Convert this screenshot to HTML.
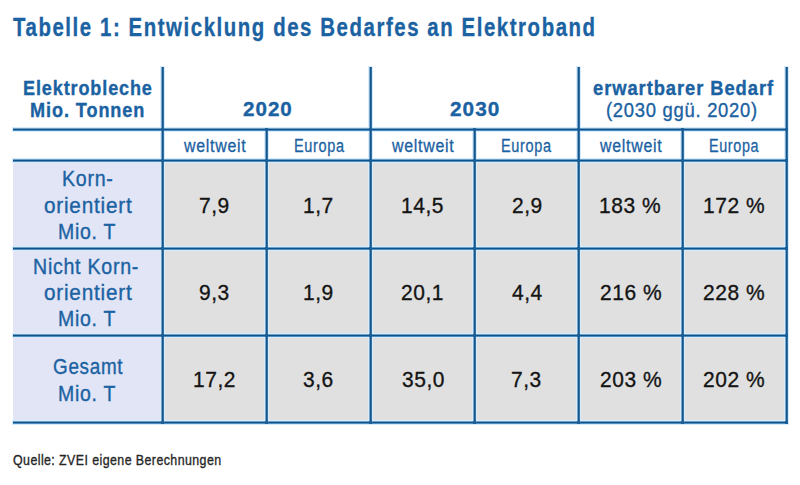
<!DOCTYPE html>
<html><head><meta charset="utf-8"><style>
html,body{margin:0;padding:0;background:#fff;}
body{width:800px;height:485px;position:relative;overflow:hidden;font-family:"Liberation Sans",sans-serif;}
.t{position:absolute;white-space:nowrap;line-height:1;transform-origin:0 0;}
.r{-webkit-text-stroke:0.35px currentColor;}
.bd{-webkit-text-stroke:0.35px currentColor;}
.sm{-webkit-text-stroke:0.3px currentColor;}
.b{position:absolute;}
.hv{position:absolute;width:5px;background:#d6ecfa;}
.hh{position:absolute;height:5px;background:#d6ecfa;}
.v{position:absolute;width:3px;background:linear-gradient(to right,#7fa6cc 0 1px,#135587 1px 2px,#3473aa 2px 3px);}
.h{position:absolute;height:3px;background:linear-gradient(to bottom,#6d9fc8 0 1px,#105286 1px 2px,#4f8cc0 2px 3px);}
</style></head><body>

<div class="b" style="left:13px;top:161px;width:149px;height:261px;background:#e1e5f6"></div>
<div class="b" style="left:163px;top:161px;width:623px;height:261px;background:#e0e0e0"></div>
<div class="hh" style="left:12px;top:127px;width:777px"></div>
<div class="hh" style="left:12px;top:158px;width:777px"></div>
<div class="hh" style="left:12px;top:246px;width:777px"></div>
<div class="hh" style="left:12px;top:333px;width:777px"></div>
<div class="hh" style="left:12px;top:420px;width:777px"></div>
<div class="hv" style="left:160px;top:66px;height:358px"></div>
<div class="hv" style="left:264px;top:128px;height:296px"></div>
<div class="hv" style="left:368px;top:66px;height:358px"></div>
<div class="hv" style="left:472px;top:128px;height:296px"></div>
<div class="hv" style="left:576px;top:66px;height:358px"></div>
<div class="hv" style="left:680px;top:128px;height:296px"></div>
<div class="hv" style="left:784px;top:66px;height:358px"></div>
<div class="h" style="left:13px;top:128px;width:775px"></div>
<div class="h" style="left:13px;top:159px;width:775px"></div>
<div class="h" style="left:13px;top:247px;width:775px"></div>
<div class="h" style="left:13px;top:334px;width:775px"></div>
<div class="h" style="left:13px;top:421px;width:775px"></div>
<div class="v" style="left:161px;top:67px;height:357px"></div>
<div class="v" style="left:265px;top:128px;height:296px"></div>
<div class="v" style="left:369px;top:67px;height:357px"></div>
<div class="v" style="left:473px;top:128px;height:296px"></div>
<div class="v" style="left:577px;top:67px;height:357px"></div>
<div class="v" style="left:681px;top:128px;height:296px"></div>
<div class="v" style="left:785px;top:67px;height:357px"></div>
<div class="b" style="left:161px;top:128px;width:3px;height:3px;background:#1a5f98"></div>
<div class="b" style="left:265px;top:128px;width:3px;height:3px;background:#1a5f98"></div>
<div class="b" style="left:369px;top:128px;width:3px;height:3px;background:#1a5f98"></div>
<div class="b" style="left:473px;top:128px;width:3px;height:3px;background:#1a5f98"></div>
<div class="b" style="left:577px;top:128px;width:3px;height:3px;background:#1a5f98"></div>
<div class="b" style="left:681px;top:128px;width:3px;height:3px;background:#1a5f98"></div>
<div class="b" style="left:785px;top:128px;width:3px;height:3px;background:#1a5f98"></div>
<div class="b" style="left:161px;top:159px;width:3px;height:3px;background:#1a5f98"></div>
<div class="b" style="left:265px;top:159px;width:3px;height:3px;background:#1a5f98"></div>
<div class="b" style="left:369px;top:159px;width:3px;height:3px;background:#1a5f98"></div>
<div class="b" style="left:473px;top:159px;width:3px;height:3px;background:#1a5f98"></div>
<div class="b" style="left:577px;top:159px;width:3px;height:3px;background:#1a5f98"></div>
<div class="b" style="left:681px;top:159px;width:3px;height:3px;background:#1a5f98"></div>
<div class="b" style="left:785px;top:159px;width:3px;height:3px;background:#1a5f98"></div>
<div class="b" style="left:161px;top:247px;width:3px;height:3px;background:#1a5f98"></div>
<div class="b" style="left:265px;top:247px;width:3px;height:3px;background:#1a5f98"></div>
<div class="b" style="left:369px;top:247px;width:3px;height:3px;background:#1a5f98"></div>
<div class="b" style="left:473px;top:247px;width:3px;height:3px;background:#1a5f98"></div>
<div class="b" style="left:577px;top:247px;width:3px;height:3px;background:#1a5f98"></div>
<div class="b" style="left:681px;top:247px;width:3px;height:3px;background:#1a5f98"></div>
<div class="b" style="left:785px;top:247px;width:3px;height:3px;background:#1a5f98"></div>
<div class="b" style="left:161px;top:334px;width:3px;height:3px;background:#1a5f98"></div>
<div class="b" style="left:265px;top:334px;width:3px;height:3px;background:#1a5f98"></div>
<div class="b" style="left:369px;top:334px;width:3px;height:3px;background:#1a5f98"></div>
<div class="b" style="left:473px;top:334px;width:3px;height:3px;background:#1a5f98"></div>
<div class="b" style="left:577px;top:334px;width:3px;height:3px;background:#1a5f98"></div>
<div class="b" style="left:681px;top:334px;width:3px;height:3px;background:#1a5f98"></div>
<div class="b" style="left:785px;top:334px;width:3px;height:3px;background:#1a5f98"></div>
<div class="b" style="left:161px;top:421px;width:3px;height:3px;background:#1a5f98"></div>
<div class="b" style="left:265px;top:421px;width:3px;height:3px;background:#1a5f98"></div>
<div class="b" style="left:369px;top:421px;width:3px;height:3px;background:#1a5f98"></div>
<div class="b" style="left:473px;top:421px;width:3px;height:3px;background:#1a5f98"></div>
<div class="b" style="left:577px;top:421px;width:3px;height:3px;background:#1a5f98"></div>
<div class="b" style="left:681px;top:421px;width:3px;height:3px;background:#1a5f98"></div>
<div class="b" style="left:785px;top:421px;width:3px;height:3px;background:#1a5f98"></div>
<div class="t bd" style="left:13.12px;top:15.25px;font-size:25.94px;font-weight:700;color:#1b62a2;letter-spacing:2.0px;transform:scaleX(0.7862)">Tabelle 1: Entwicklung des Bedarfes an Elektroband</div>
<div class="t bd" style="left:23.19px;top:78.12px;font-size:20.45px;font-weight:700;color:#1b62a2;letter-spacing:1.0px;transform:scaleX(0.8827)">Elektrobleche</div>
<div class="t bd" style="left:30.18px;top:100.32px;font-size:19.98px;font-weight:700;color:#1b62a2;letter-spacing:1.0px;transform:scaleX(0.9072)">Mio. Tonnen</div>
<div class="t bd" style="left:242.96px;top:99.32px;font-size:20.56px;font-weight:700;color:#1b62a2;letter-spacing:1.0px;transform:scaleX(1.0017)">2020</div>
<div class="t bd" style="left:449.77px;top:99.32px;font-size:20.56px;font-weight:700;color:#1b62a2;letter-spacing:1.0px;transform:scaleX(1.0121)">2030</div>
<div class="t bd" style="left:592.51px;top:79.19px;font-size:19.67px;font-weight:700;color:#1b62a2;letter-spacing:1.0px;transform:scaleX(0.9335)">erwartbarer Bedarf</div>
<div class="t r" style="left:606.34px;top:99.62px;font-size:20.56px;font-weight:400;color:#1b62a2;letter-spacing:0.8px;transform:scaleX(0.8969)">(2030 ggü. 2020)</div>
<div class="t r" style="left:12.65px;top:453.46px;font-size:14.64px;font-weight:400;color:#262626;letter-spacing:0.5px;transform:scaleX(0.8475)">Quelle: ZVEI eigene Berechnungen</div>
<div class="t sm" style="left:184.12px;top:136.60px;font-size:18.00px;font-weight:400;color:#1b62a2;letter-spacing:0.8px;transform:scaleX(0.8869)">weltweit</div>
<div class="t sm" style="left:293.75px;top:136.70px;font-size:18.00px;font-weight:400;color:#1b62a2;letter-spacing:0.8px;transform:scaleX(0.8050)">Europa</div>
<div class="t sm" style="left:391.99px;top:136.60px;font-size:18.00px;font-weight:400;color:#1b62a2;letter-spacing:0.8px;transform:scaleX(0.8869)">weltweit</div>
<div class="t sm" style="left:500.82px;top:136.70px;font-size:18.00px;font-weight:400;color:#1b62a2;letter-spacing:0.8px;transform:scaleX(0.8050)">Europa</div>
<div class="t sm" style="left:599.89px;top:136.60px;font-size:18.00px;font-weight:400;color:#1b62a2;letter-spacing:0.8px;transform:scaleX(0.8869)">weltweit</div>
<div class="t sm" style="left:708.92px;top:136.70px;font-size:18.00px;font-weight:400;color:#1b62a2;letter-spacing:0.8px;transform:scaleX(0.7984)">Europa</div>
<div class="t r" style="left:62.42px;top:169.39px;font-size:21.30px;font-weight:400;color:#1b62a2;letter-spacing:0.8px;transform:scaleX(0.9199)">Korn-</div>
<div class="t r" style="left:44.17px;top:195.59px;font-size:21.30px;font-weight:400;color:#1b62a2;letter-spacing:0.8px;transform:scaleX(0.9732)">orientiert</div>
<div class="t r" style="left:58.24px;top:221.89px;font-size:21.30px;font-weight:400;color:#1b62a2;letter-spacing:0.8px;transform:scaleX(0.9141)">Mio. T</div>
<div class="t r" style="left:32.74px;top:256.50px;font-size:21.30px;font-weight:400;color:#1b62a2;letter-spacing:0.8px;transform:scaleX(0.9195)">Nicht Korn-</div>
<div class="t r" style="left:44.17px;top:282.69px;font-size:21.30px;font-weight:400;color:#1b62a2;letter-spacing:0.8px;transform:scaleX(0.9732)">orientiert</div>
<div class="t r" style="left:58.24px;top:308.99px;font-size:21.30px;font-weight:400;color:#1b62a2;letter-spacing:0.8px;transform:scaleX(0.9141)">Mio. T</div>
<div class="t r" style="left:52.67px;top:357.09px;font-size:21.30px;font-weight:400;color:#1b62a2;letter-spacing:0.8px;transform:scaleX(0.8856)">Gesamt</div>
<div class="t r" style="left:58.24px;top:383.79px;font-size:21.30px;font-weight:400;color:#1b62a2;letter-spacing:0.8px;transform:scaleX(0.9141)">Mio. T</div>
<div class="t r" style="left:199.39px;top:193.88px;font-size:22.82px;font-weight:400;color:#141414;letter-spacing:0.6px;transform:scaleX(0.9189)">7,9</div>
<div class="t r" style="left:303.26px;top:193.88px;font-size:22.82px;font-weight:400;color:#141414;letter-spacing:0.6px;transform:scaleX(0.9189)">1,7</div>
<div class="t r" style="left:400.82px;top:193.88px;font-size:22.82px;font-weight:400;color:#141414;letter-spacing:0.6px;transform:scaleX(0.9189)">14,5</div>
<div class="t r" style="left:511.54px;top:193.88px;font-size:22.82px;font-weight:400;color:#141414;letter-spacing:0.6px;transform:scaleX(0.9189)">2,9</div>
<div class="t r" style="left:598.89px;top:193.88px;font-size:22.82px;font-weight:400;color:#141414;letter-spacing:0.6px;transform:scaleX(0.9189)">183 %</div>
<div class="t r" style="left:703.49px;top:193.88px;font-size:22.82px;font-weight:400;color:#141414;letter-spacing:0.6px;transform:scaleX(0.9189)">172 %</div>
<div class="t r" style="left:199.26px;top:280.88px;font-size:22.82px;font-weight:400;color:#141414;letter-spacing:0.6px;transform:scaleX(0.9189)">9,3</div>
<div class="t r" style="left:303.26px;top:280.88px;font-size:22.82px;font-weight:400;color:#141414;letter-spacing:0.6px;transform:scaleX(0.9189)">1,9</div>
<div class="t r" style="left:401.18px;top:280.88px;font-size:22.82px;font-weight:400;color:#141414;letter-spacing:0.6px;transform:scaleX(0.9189)">20,1</div>
<div class="t r" style="left:511.57px;top:280.88px;font-size:22.82px;font-weight:400;color:#141414;letter-spacing:0.6px;transform:scaleX(0.9189)">4,4</div>
<div class="t r" style="left:599.77px;top:280.88px;font-size:22.82px;font-weight:400;color:#141414;letter-spacing:0.6px;transform:scaleX(0.9189)">216 %</div>
<div class="t r" style="left:703.37px;top:280.88px;font-size:22.82px;font-weight:400;color:#141414;letter-spacing:0.6px;transform:scaleX(0.9189)">228 %</div>
<div class="t r" style="left:192.78px;top:368.38px;font-size:22.82px;font-weight:400;color:#141414;letter-spacing:0.6px;transform:scaleX(0.9189)">17,2</div>
<div class="t r" style="left:303.18px;top:368.38px;font-size:22.82px;font-weight:400;color:#141414;letter-spacing:0.6px;transform:scaleX(0.9189)">3,6</div>
<div class="t r" style="left:401.65px;top:368.38px;font-size:22.82px;font-weight:400;color:#141414;letter-spacing:0.6px;transform:scaleX(0.9189)">35,0</div>
<div class="t r" style="left:511.04px;top:368.38px;font-size:22.82px;font-weight:400;color:#141414;letter-spacing:0.6px;transform:scaleX(0.9189)">7,3</div>
<div class="t r" style="left:599.77px;top:368.38px;font-size:22.82px;font-weight:400;color:#141414;letter-spacing:0.6px;transform:scaleX(0.9189)">203 %</div>
<div class="t r" style="left:703.37px;top:368.38px;font-size:22.82px;font-weight:400;color:#141414;letter-spacing:0.6px;transform:scaleX(0.9189)">202 %</div>

</body></html>
